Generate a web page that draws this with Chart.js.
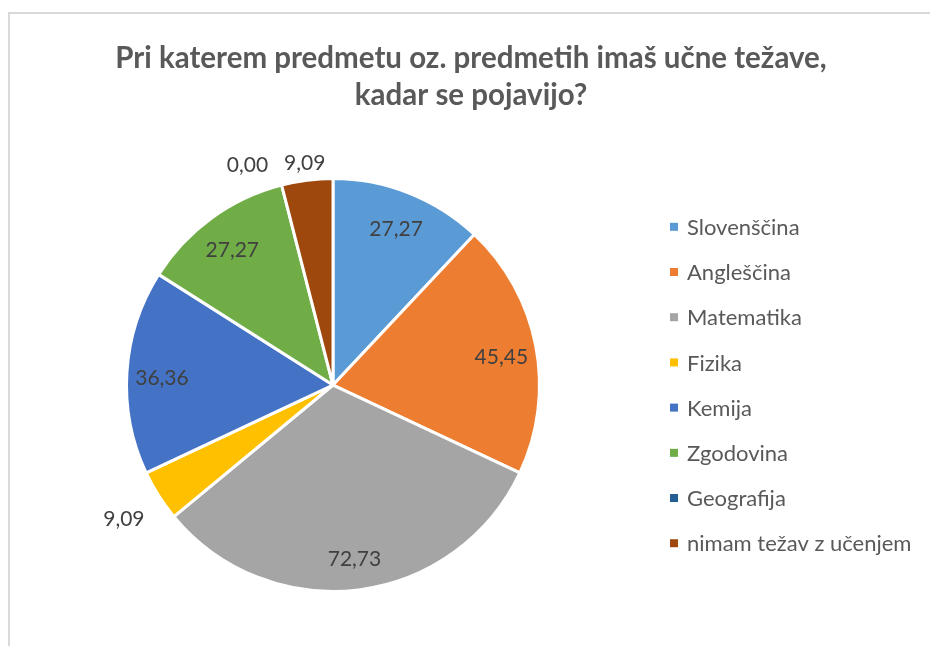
<!DOCTYPE html>
<html>
<head>
<meta charset="utf-8">
<script src="https://cdn.jsdelivr.net/npm/chart.js@4"></script>
<style>
  body { margin: 0; background: #fff; }
  canvas { display: block; }
</style>
</head>
<body>
<canvas id="torta" width="930" height="646"></canvas>
<script>
// predmeti (kategorije)
var predmeti = [
  "Slovenščina",
  "Angleščina",
  "Matematika",
  "Fizika",
  "Kemija",
  "Zgodovina",
  "Geografija",
  "nimam težav z učenjem",
];
// odstotki
var vrednosti = [27.27, 45.45, 72.73, 9.09, 36.36, 27.27, 0.0, 9.09];
// barve (Office)
var barve = ["#5B9BD5", "#ED7D31", "#A5A5A5", "#FFC000", "#4472C4", "#70AD47", "#255E91", "#9E480E"];

var naslov = ["Pri katerem predmetu oz. predmetih imaš učne težave,", "kadar se pojavijo?"];

// okvir grafa (zgoraj in levo)
var okvir = {
  id: "okvir",
  beforeDraw: function (chart) {
    var c = chart.ctx;
    c.save();
    c.strokeStyle = "#d9d9d9";
    c.lineWidth = 2;
    c.beginPath();
    c.moveTo(9, 646);
    c.lineTo(9, 13);
    c.lineTo(930, 13);
    c.stroke();
    c.restore();
  },
};

// prostor na desni za legendo (naslov ostane cez celo sirino)
var legenda = {
  id: "legenda",
  start: function (chart) {
    var box = {
      position: "right",
      weight: 1000,
      fullSize: false,
      options: {},
      isHorizontal: function () { return false; },
      update: function (maxWidth, maxHeight) {
        this.width = 276;
        this.height = maxHeight;
      },
      draw: function () {},
    };
    chart.$legendaBox = box;
    Chart.layouts.addBox(chart, box);
  },
  afterDraw: function (chart) {
    var c = chart.ctx;
    var box = chart.$legendaBox;
    var sredina = (chart.chartArea.top + chart.chartArea.bottom) / 2;
    var n = chart.data.labels.length;
    c.save();
    c.font = "22px Lato";
    c.textAlign = "left";
    c.textBaseline = "middle";
    chart.data.labels.forEach(function (lab, i) {
      var y = sredina + (i - (n - 1) / 2) * 45.2;
      var x = box.left + 24;
      c.fillStyle = chart.data.datasets[0].backgroundColor[i];
      c.fillRect(x, y - 4, 8, 8);
      c.fillStyle = "#595959";
      c.fillText(lab, x + 17, y + 1);
    });
    c.restore();
  },
};

// oznake podatkov (notri ali zunaj)
var oznake = {
  id: "oznake",
  afterDatasetsDraw: function (chart) {
    var c = chart.ctx;
    var meta = chart.getDatasetMeta(0);
    var data = chart.data.datasets[0].data;
    var vsota = data.reduce(function (a, b) { return a + b; }, 0);
    c.save();
    c.font = "21px Lato";
    c.fillStyle = "#404040";
    c.textAlign = "center";
    c.textBaseline = "middle";
    var zunaj = [];
    meta.data.forEach(function (arc, i) {
      var p = arc.getProps(["x", "y", "startAngle", "endAngle", "outerRadius"], true);
      var kot = (p.startAngle + p.endAngle) / 2;
      var txt = data[i].toFixed(2).replace(".", ",");
      var dx = Math.cos(kot), dy = Math.sin(kot);
      if (data[i] / vsota > 0.1) {
        var r = p.outerRadius * 0.83;
        c.fillText(txt, p.x + dx * r, p.y + dy * r + 4);
      } else {
        var r2 = p.outerRadius + 15 + 31 * Math.abs(dx);
        zunaj.push({ txt: txt, x: p.x + dx * r2, y: p.y + dy * r2 + 2, w: c.measureText(txt).width });
      }
    });
    // prepreci prekrivanje
    for (var i = zunaj.length - 1; i > 0; i--) {
      var a = zunaj[i - 1], b = zunaj[i];
      if (Math.abs(a.y - b.y) < 22) {
        var min = (a.w + b.w) / 2 + 16;
        if (Math.abs(a.x - b.x) < min) {
          if (a.x < b.x) a.x = b.x - min; else b.x = a.x - min;
        }
      }
    }
    zunaj.forEach(function (o) { c.fillText(o.txt, o.x, o.y); });
    c.restore();
  },
};

const ctx = document.getElementById("torta");
const torta = new Chart(ctx, {
  type: "pie",
  data: {
    labels: predmeti,
    datasets: [{
      data: vrednosti,
      backgroundColor: barve,
      borderColor: "#ffffff",
      borderWidth: 3,
    }],
  },
  options: {
    responsive: false,
    animation: false,
    events: [],
    layout: { padding: { top: 14, bottom: 53, left: 20, right: 8 } },
    plugins: {
      title: {
        display: true,
        text: naslov,
        color: "#595959",
        font: { family: "Lato", size: 29.5, weight: "bold", lineHeight: 1.255 },
        padding: { top: 25.5, bottom: 63.5 },
      },
      legend: { display: false },
      tooltip: { enabled: false },
    },
  },
  plugins: [okvir, legenda, oznake],
});
</script>
</body>
</html>
